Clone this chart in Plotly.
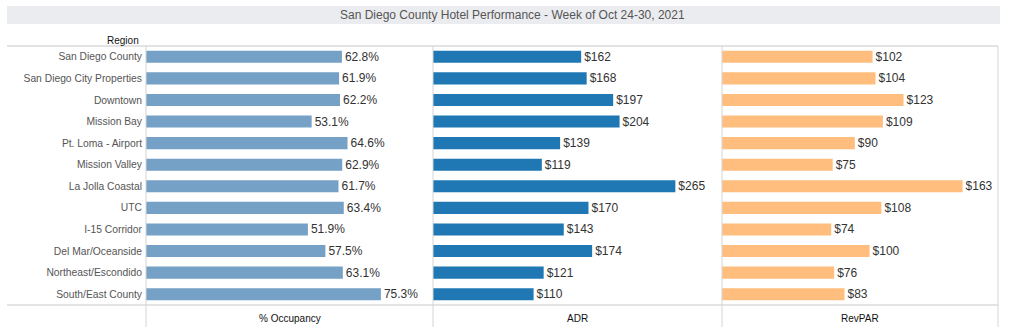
import plotly.graph_objects as go

regions = ["San Diego County", "San Diego City Properties", "Downtown", "Mission Bay",
           "Pt. Loma - Airport", "Mission Valley", "La Jolla Coastal", "UTC",
           "I-15 Corridor", "Del Mar/Oceanside", "Northeast/Escondido", "South/East County"]
occupancy = [62.8, 61.9, 62.2, 53.1, 64.6, 62.9, 61.7, 63.4, 51.9, 57.5, 63.1, 75.3]
adr = [162, 168, 197, 204, 139, 119, 265, 170, 143, 174, 121, 110]
revpar = [102, 104, 123, 109, 90, 75, 163, 108, 74, 100, 76, 83]
columns = ["% Occupancy", "ADR", "RevPAR"]

W, H = 1024, 331
def px(x): return x / W
def py(y): return 1 - y / H

FONT = "Arial, Liberation Sans, sans-serif"
panels = [(146, 433), (433, 722), (722, 998)]
ranges = [[0, 92], [0, 316], [0, 187]]
colors = ["#75a1c7", "#1f77b4", "#ffbe7d"]
series = [occupancy, adr, revpar]
texts = [[f"{v:.1f}%" for v in occupancy], [f"${v}" for v in adr], [f"${v}" for v in revpar]]

fig = go.Figure()
for i, (vals, col, txt) in enumerate(zip(series, colors, texts)):
    xa = "x" if i == 0 else f"x{i+1}"
    fig.add_trace(go.Bar(
        x=vals, y=regions, orientation="h", xaxis=xa, yaxis="y",
        marker=dict(color=col, line=dict(width=0)),
        text=txt, textposition="outside", cliponaxis=False, constraintext="none",
        textfont=dict(family=FONT, size=12, color="#333333"),
        hoverinfo="x+y", showlegend=False,
    ))

layout = dict(
    width=W, height=H, margin=dict(l=0, r=0, t=0, b=0),
    paper_bgcolor="white", plot_bgcolor="white",
    bargap=0.44,
    yaxis=dict(domain=[py(305), py(46)], type="category", autorange="reversed",
               anchor="x", showgrid=False, zeroline=False, showline=False,
               ticks="", ticklabelstandoff=3,
               tickfont=dict(family=FONT, size=10.3, color="#555555")),
)
for i, ((x0, x1), rg) in enumerate(zip(panels, ranges)):
    key = "xaxis" if i == 0 else f"xaxis{i+1}"
    layout[key] = dict(domain=[px(x0), px(x1)], range=rg, anchor="y",
                       visible=False, fixedrange=True)
fig.update_layout(**layout)

shapes = [
    dict(type="rect", xref="paper", yref="paper", x0=px(7), x1=px(1000), y0=py(24), y1=py(6),
         fillcolor="#ebecef", line=dict(width=0), layer="below"),
    dict(type="line", xref="paper", yref="paper", x0=px(7), x1=px(998), y0=py(46), y1=py(46),
         line=dict(color="#c8c8c8", width=1)),
    dict(type="line", xref="paper", yref="paper", x0=px(7), x1=px(998), y0=py(305), y1=py(305),
         line=dict(color="#c8c8c8", width=1)),
]
for xv in [146, 433, 722, 998]:
    shapes.append(dict(type="line", xref="paper", yref="paper", x0=px(xv), x1=px(xv),
                       y0=py(327), y1=py(46), line=dict(color="#d4d4d4", width=1)))
fig.update_layout(shapes=shapes)

annotations = [
    dict(text="San Diego County Hotel Performance - Week of Oct 24-30, 2021",
         xref="paper", yref="paper", x=px(512), y=py(15), showarrow=False,
         font=dict(family=FONT, size=12, color="#555555"), xanchor="center", yanchor="middle"),
    dict(text="Region", xref="paper", yref="paper", x=px(141), y=py(40), showarrow=False,
         font=dict(family=FONT, size=10, color="#111111"), xanchor="right", yanchor="middle"),
]
for (x0, x1), name in zip(panels, columns):
    annotations.append(dict(text=name, xref="paper", yref="paper", x=px((x0 + x1) / 2), y=py(318),
                            showarrow=False, xanchor="center", yanchor="middle",
                            font=dict(family=FONT, size=10, color="#111111")))
fig.update_layout(annotations=annotations)

fig.write_html("out.html")
